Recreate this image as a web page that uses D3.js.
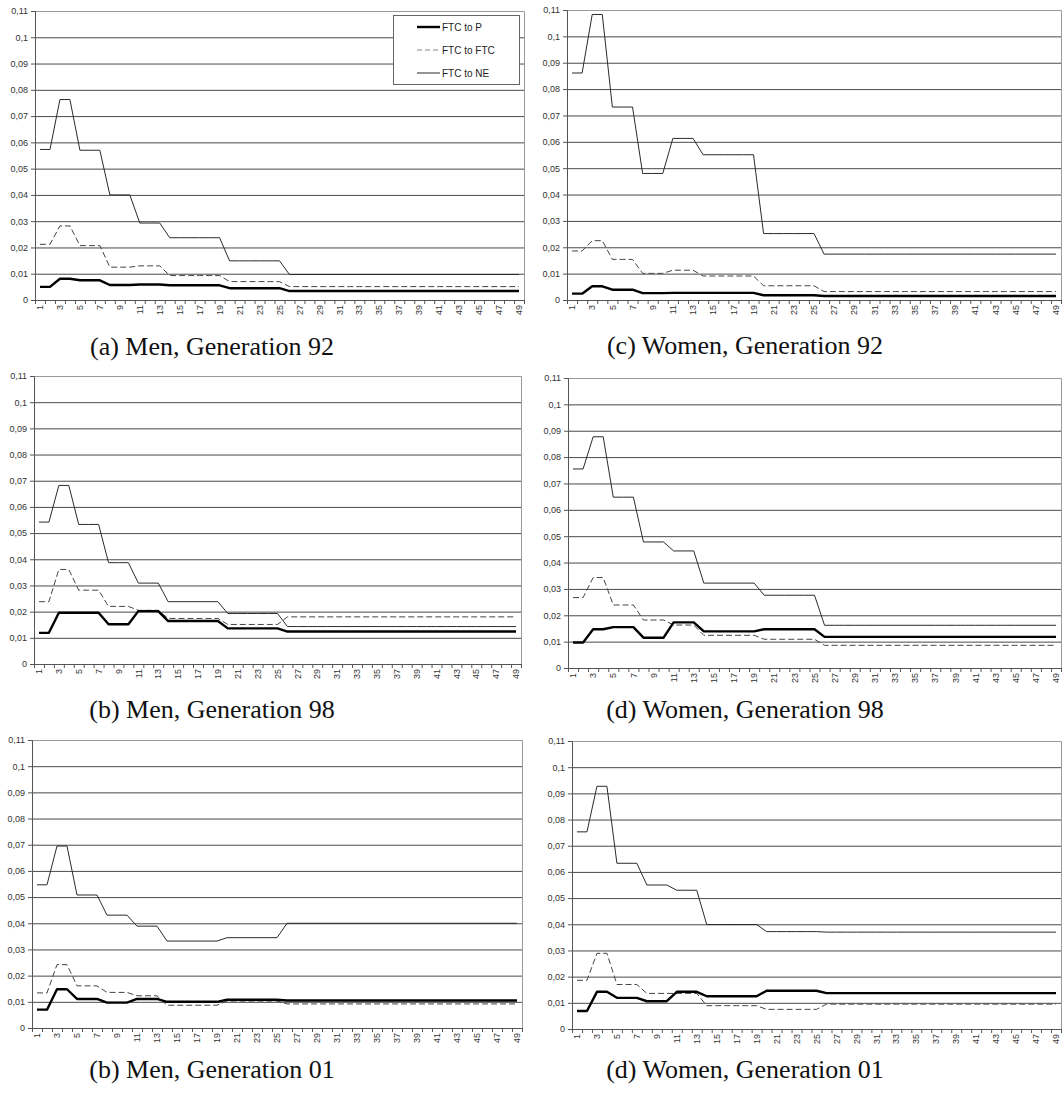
<!DOCTYPE html>
<html>
<head>
<meta charset="utf-8">
<script src="https://cdn.jsdelivr.net/npm/d3@7"></script>
<style>
  body { margin: 0; background: #fff; }
</style>
</head>
<body>
<svg id="chart" width="1064" height="1093"></svg>
<script>
// categories on the x axis (1..49) and the ones that carry a label
const categories = [
  1, 2, 3, 4, 5, 6, 7, 8, 9, 10, 11, 12, 13, 14, 15, 16, 17, 18, 19, 20,
  21, 22, 23, 24, 25, 26, 27, 28, 29, 30, 31, 32, 33, 34, 35, 36, 37, 38, 39, 40,
  41, 42, 43, 44, 45, 46, 47, 48, 49
];
const labelledCategories = [1, 3, 5, 7, 9, 11, 13, 15, 17, 19, 21, 23, 25, 27, 29, 31, 33, 35, 37, 39, 41, 43, 45, 47, 49];

const yTicks = [0, 0.01, 0.02, 0.03, 0.04, 0.05, 0.06, 0.07, 0.08, 0.09, 0.1, 0.11];
const yTickLabels = ['0', '0,01', '0,02', '0,03', '0,04', '0,05', '0,06', '0,07', '0,08', '0,09', '0,1', '0,11'];

const seriesNames = ['FTC to P', 'FTC to FTC', 'FTC to NE'];

const captions = [
  '(a) Men, Generation 92', '(c) Women, Generation 92',
  '(b) Men, Generation 98', '(d) Women, Generation 98',
  '(b) Men, Generation 01', '(d) Women, Generation 01'
];

// (a) Men, Generation 92
const men92P = [
  0.005, 0.005, 0.0081, 0.0081, 0.0075, 0.0075, 0.0075, 0.0057, 0.0057, 0.0057,
  0.0059, 0.0059, 0.0059, 0.0056, 0.0056, 0.0056, 0.0056, 0.0056, 0.0056, 0.0045,
  0.0045, 0.0045, 0.0045, 0.0045, 0.0045, 0.0034, 0.0034, 0.0034, 0.0034, 0.0034,
  0.0034, 0.0034, 0.0034, 0.0034, 0.0034, 0.0034, 0.0034, 0.0034, 0.0034, 0.0034,
  0.0034, 0.0034, 0.0034, 0.0034, 0.0034, 0.0034, 0.0034, 0.0034, 0.0034
];
const men92FTC = [
  0.0212, 0.0212, 0.0282, 0.0282, 0.0207, 0.0207, 0.0207, 0.0125, 0.0125, 0.0125,
  0.013, 0.013, 0.013, 0.0093, 0.0093, 0.0093, 0.0093, 0.0093, 0.0093, 0.007,
  0.007, 0.007, 0.007, 0.007, 0.007, 0.0051, 0.0051, 0.0051, 0.0051, 0.0051,
  0.0051, 0.0051, 0.0051, 0.0051, 0.0051, 0.0051, 0.0051, 0.0051, 0.0051, 0.0051,
  0.0051, 0.0051, 0.0051, 0.0051, 0.0051, 0.0051, 0.0051, 0.0051, 0.0051
];
const men92NE = [
  0.0573, 0.0573, 0.0763, 0.0763, 0.057, 0.057, 0.057, 0.04, 0.04, 0.04,
  0.0293, 0.0293, 0.0293, 0.0237, 0.0237, 0.0237, 0.0237, 0.0237, 0.0237, 0.0149,
  0.0149, 0.0149, 0.0149, 0.0149, 0.0149, 0.0097, 0.0097, 0.0097, 0.0097, 0.0097,
  0.0097, 0.0097, 0.0097, 0.0097, 0.0097, 0.0097, 0.0097, 0.0097, 0.0097, 0.0097,
  0.0097, 0.0097, 0.0097, 0.0097, 0.0097, 0.0097, 0.0097, 0.0097, 0.0097
];

// (c) Women, Generation 92
const women92P = [
  0.0024, 0.0024, 0.0052, 0.0052, 0.0039, 0.0039, 0.0039, 0.0026, 0.0026, 0.0026,
  0.0027, 0.0027, 0.0027, 0.0027, 0.0027, 0.0027, 0.0027, 0.0027, 0.0027, 0.0018,
  0.0018, 0.0018, 0.0018, 0.0018, 0.0018, 0.0015, 0.0015, 0.0015, 0.0015, 0.0015,
  0.0015, 0.0015, 0.0015, 0.0015, 0.0015, 0.0015, 0.0015, 0.0015, 0.0015, 0.0015,
  0.0015, 0.0015, 0.0015, 0.0015, 0.0015, 0.0015, 0.0015, 0.0015, 0.0015
];
const women92FTC = [
  0.0186, 0.0186, 0.0225, 0.0225, 0.0154, 0.0154, 0.0154, 0.0101, 0.0101, 0.0101,
  0.0113, 0.0113, 0.0113, 0.0091, 0.0091, 0.0091, 0.0091, 0.0091, 0.0091, 0.0054,
  0.0054, 0.0054, 0.0054, 0.0054, 0.0054, 0.0032, 0.0032, 0.0032, 0.0032, 0.0032,
  0.0032, 0.0032, 0.0032, 0.0032, 0.0032, 0.0032, 0.0032, 0.0032, 0.0032, 0.0032,
  0.0032, 0.0032, 0.0032, 0.0032, 0.0032, 0.0032, 0.0032, 0.0032, 0.0032
];
const women92NE = [
  0.0861, 0.0861, 0.1083, 0.1083, 0.0732, 0.0732, 0.0732, 0.048, 0.048, 0.048,
  0.0613, 0.0613, 0.0613, 0.0551, 0.0551, 0.0551, 0.0551, 0.0551, 0.0551, 0.0252,
  0.0252, 0.0252, 0.0252, 0.0252, 0.0252, 0.0174, 0.0174, 0.0174, 0.0174, 0.0174,
  0.0174, 0.0174, 0.0174, 0.0174, 0.0174, 0.0174, 0.0174, 0.0174, 0.0174, 0.0174,
  0.0174, 0.0174, 0.0174, 0.0174, 0.0174, 0.0174, 0.0174, 0.0174, 0.0174
];

// (b) Men, Generation 98
const men98P = [
  0.0119, 0.0119, 0.0196, 0.0196, 0.0196, 0.0196, 0.0196, 0.0152, 0.0152, 0.0152,
  0.0202, 0.0202, 0.0202, 0.0164, 0.0164, 0.0164, 0.0164, 0.0164, 0.0164, 0.0136,
  0.0136, 0.0136, 0.0136, 0.0136, 0.0136, 0.0124, 0.0124, 0.0124, 0.0124, 0.0124,
  0.0124, 0.0124, 0.0124, 0.0124, 0.0124, 0.0124, 0.0124, 0.0124, 0.0124, 0.0124,
  0.0124, 0.0124, 0.0124, 0.0124, 0.0124, 0.0124, 0.0124, 0.0124, 0.0124
];
const men98FTC = [
  0.0238, 0.0238, 0.0361, 0.0361, 0.0282, 0.0282, 0.0282, 0.022, 0.022, 0.022,
  0.0205, 0.0205, 0.0205, 0.0174, 0.0174, 0.0174, 0.0174, 0.0174, 0.0174, 0.0151,
  0.0151, 0.0151, 0.0151, 0.0151, 0.0151, 0.018, 0.018, 0.018, 0.018, 0.018,
  0.018, 0.018, 0.018, 0.018, 0.018, 0.018, 0.018, 0.018, 0.018, 0.018,
  0.018, 0.018, 0.018, 0.018, 0.018, 0.018, 0.018, 0.018, 0.018
];
const men98NE = [
  0.0542, 0.0542, 0.0682, 0.0682, 0.0533, 0.0533, 0.0533, 0.0387, 0.0387, 0.0387,
  0.0309, 0.0309, 0.0309, 0.0238, 0.0238, 0.0238, 0.0238, 0.0238, 0.0238, 0.0193,
  0.0193, 0.0193, 0.0193, 0.0193, 0.0193, 0.0143, 0.0143, 0.0143, 0.0143, 0.0143,
  0.0143, 0.0143, 0.0143, 0.0143, 0.0143, 0.0143, 0.0143, 0.0143, 0.0143, 0.0143,
  0.0143, 0.0143, 0.0143, 0.0143, 0.0143, 0.0143, 0.0143, 0.0143, 0.0143
];

// (d) Women, Generation 98
const women98P = [
  0.0097, 0.0097, 0.0147, 0.0147, 0.0155, 0.0155, 0.0155, 0.0115, 0.0115, 0.0115,
  0.0173, 0.0173, 0.0173, 0.0139, 0.0139, 0.0139, 0.0139, 0.0139, 0.0139, 0.0147,
  0.0147, 0.0147, 0.0147, 0.0147, 0.0147, 0.0118, 0.0118, 0.0118, 0.0118, 0.0118,
  0.0118, 0.0118, 0.0118, 0.0118, 0.0118, 0.0118, 0.0118, 0.0118, 0.0118, 0.0118,
  0.0118, 0.0118, 0.0118, 0.0118, 0.0118, 0.0118, 0.0118, 0.0118, 0.0118
];
const women98FTC = [
  0.0267, 0.0267, 0.0343, 0.0343, 0.0239, 0.0239, 0.0239, 0.0182, 0.0182, 0.0182,
  0.0163, 0.0163, 0.0163, 0.0124, 0.0124, 0.0124, 0.0124, 0.0124, 0.0124, 0.0109,
  0.0109, 0.0109, 0.0109, 0.0109, 0.0109, 0.0086, 0.0086, 0.0086, 0.0086, 0.0086,
  0.0086, 0.0086, 0.0086, 0.0086, 0.0086, 0.0086, 0.0086, 0.0086, 0.0086, 0.0086,
  0.0086, 0.0086, 0.0086, 0.0086, 0.0086, 0.0086, 0.0086, 0.0086, 0.0086
];
const women98NE = [
  0.0755, 0.0755, 0.0877, 0.0877, 0.0648, 0.0648, 0.0648, 0.0478, 0.0478, 0.0478,
  0.0444, 0.0444, 0.0444, 0.0322, 0.0322, 0.0322, 0.0322, 0.0322, 0.0322, 0.0276,
  0.0276, 0.0276, 0.0276, 0.0276, 0.0276, 0.0162, 0.0162, 0.0162, 0.0162, 0.0162,
  0.0162, 0.0162, 0.0162, 0.0162, 0.0162, 0.0162, 0.0162, 0.0162, 0.0162, 0.0162,
  0.0162, 0.0162, 0.0162, 0.0162, 0.0162, 0.0162, 0.0162, 0.0162, 0.0162
];

// (b) Men, Generation 01
const men01P = [
  0.007, 0.007, 0.0148, 0.0148, 0.0111, 0.0111, 0.0111, 0.0097, 0.0097, 0.0097,
  0.0111, 0.0111, 0.0111, 0.01, 0.01, 0.01, 0.01, 0.01, 0.01, 0.0108,
  0.0108, 0.0108, 0.0108, 0.0108, 0.0108, 0.0105, 0.0105, 0.0105, 0.0105, 0.0105,
  0.0105, 0.0105, 0.0105, 0.0105, 0.0105, 0.0105, 0.0105, 0.0105, 0.0105, 0.0105,
  0.0105, 0.0105, 0.0105, 0.0105, 0.0105, 0.0105, 0.0105, 0.0105, 0.0105
];
const men01FTC = [
  0.0134, 0.0134, 0.0242, 0.0242, 0.0161, 0.0161, 0.0161, 0.0136, 0.0136, 0.0136,
  0.0123, 0.0123, 0.0123, 0.0087, 0.0087, 0.0087, 0.0087, 0.0087, 0.0087, 0.0103,
  0.0103, 0.0103, 0.0103, 0.0103, 0.0103, 0.0092, 0.0092, 0.0092, 0.0092, 0.0092,
  0.0092, 0.0092, 0.0092, 0.0092, 0.0092, 0.0092, 0.0092, 0.0092, 0.0092, 0.0092,
  0.0092, 0.0092, 0.0092, 0.0092, 0.0092, 0.0092, 0.0092, 0.0092, 0.0092
];
const men01NE = [
  0.0547, 0.0547, 0.0695, 0.0695, 0.0508, 0.0508, 0.0508, 0.0431, 0.0431, 0.0431,
  0.0389, 0.0389, 0.0389, 0.0332, 0.0332, 0.0332, 0.0332, 0.0332, 0.0332, 0.0345,
  0.0345, 0.0345, 0.0345, 0.0345, 0.0345, 0.04, 0.04, 0.04, 0.04, 0.04,
  0.04, 0.04, 0.04, 0.04, 0.04, 0.04, 0.04, 0.04, 0.04, 0.04,
  0.04, 0.04, 0.04, 0.04, 0.04, 0.04, 0.04, 0.04, 0.04
];

// (d) Women, Generation 01
const women01P = [
  0.0069, 0.0069, 0.0142, 0.0142, 0.0119, 0.0119, 0.0119, 0.0106, 0.0106, 0.0106,
  0.0142, 0.0142, 0.0142, 0.0125, 0.0125, 0.0125, 0.0125, 0.0125, 0.0125, 0.0146,
  0.0146, 0.0146, 0.0146, 0.0146, 0.0146, 0.0137, 0.0137, 0.0137, 0.0137, 0.0137,
  0.0137, 0.0137, 0.0137, 0.0137, 0.0137, 0.0137, 0.0137, 0.0137, 0.0137, 0.0137,
  0.0137, 0.0137, 0.0137, 0.0137, 0.0137, 0.0137, 0.0137, 0.0137, 0.0137
];
const women01FTC = [
  0.0186, 0.0186, 0.0289, 0.0289, 0.017, 0.017, 0.017, 0.0136, 0.0136, 0.0136,
  0.0136, 0.0136, 0.0136, 0.0089, 0.0089, 0.0089, 0.0089, 0.0089, 0.0089, 0.0075,
  0.0075, 0.0075, 0.0075, 0.0075, 0.0075, 0.0095, 0.0095, 0.0095, 0.0095, 0.0095,
  0.0095, 0.0095, 0.0095, 0.0095, 0.0095, 0.0095, 0.0095, 0.0095, 0.0095, 0.0095,
  0.0095, 0.0095, 0.0095, 0.0095, 0.0095, 0.0095, 0.0095, 0.0095, 0.0095
];
const women01NE = [
  0.0753, 0.0753, 0.0927, 0.0927, 0.0633, 0.0633, 0.0633, 0.055, 0.055, 0.055,
  0.053, 0.053, 0.053, 0.0399, 0.0399, 0.0399, 0.0399, 0.0399, 0.0399, 0.0372,
  0.0372, 0.0372, 0.0372, 0.0372, 0.0372, 0.037, 0.037, 0.037, 0.037, 0.037,
  0.037, 0.037, 0.037, 0.037, 0.037, 0.037, 0.037, 0.037, 0.037, 0.037,
  0.037, 0.037, 0.037, 0.037, 0.037, 0.037, 0.037, 0.037, 0.037
];

const sansFont = "'Liberation Sans', Arial, sans-serif";
const serifFont = "'Liberation Serif', 'Times New Roman', serif";

// line look for P, FTC, NE (drawn NE first so the thick P line sits on top)
const seriesStyle = [
  { stroke: '#000', width: 2.4, dash: null },
  { stroke: '#444', width: 1, dash: '6,3' },
  { stroke: '#2a2a2a', width: 1, dash: null }
];

const panels = [
  { caption: captions[0], series: [men92P, men92FTC, men92NE], legend: true,
    frame: { left: 35, right: 524, top: 11, bottom: 300 }, capX: 212, capY: 355 },
  { caption: captions[1], series: [women92P, women92FTC, women92NE],
    frame: { left: 567, right: 1061, top: 10, bottom: 300 }, capX: 745, capY: 354 },
  { caption: captions[2], series: [men98P, men98FTC, men98NE],
    frame: { left: 34, right: 521, top: 376, bottom: 664 }, capX: 212, capY: 718 },
  { caption: captions[3], series: [women98P, women98FTC, women98NE],
    frame: { left: 568, right: 1061, top: 378, bottom: 668 }, capX: 745, capY: 718 },
  { caption: captions[4], series: [men01P, men01FTC, men01NE],
    frame: { left: 32, right: 522, top: 740, bottom: 1028 }, capX: 212, capY: 1078 },
  { caption: captions[5], series: [women01P, women01FTC, women01NE],
    frame: { left: 572, right: 1061, top: 741, bottom: 1029 }, capX: 745, capY: 1078 }
];

const svg = d3.select('#chart');
svg.append('rect').attr('width', 1064).attr('height', 1093).attr('fill', '#fff');

panels.forEach(drawPanel);

function drawPanel(p) {
  const f = p.frame;
  const g = svg.append('g');

  const x = d3.scaleBand().domain(categories).range([f.left, f.right]);
  const xEdge = d3.scaleLinear().domain([0, categories.length]).range([f.left, f.right]);
  const y = d3.scaleLinear().domain([0, 0.11]).range([f.bottom, f.top]);

  // Gridlines
  g.append('g')
    .attr('transform', `translate(${f.left},0)`)
    .call(d3.axisLeft(y).tickValues(yTicks.slice(1, -1)).tickSize(-(f.right - f.left)).tickFormat(''))
    .call(s => s.select('.domain').remove())
    .selectAll('line')
    .attr('stroke', '#4a4a4a');

  // Plot border (top and right)
  g.append('path')
    .attr('d', `M${f.left},${f.top + 0.5}H${f.right + 0.5}V${f.bottom}`)
    .attr('fill', 'none')
    .attr('stroke', '#9a9a9a');

  // Y axis
  const yAxis = g.append('g')
    .attr('transform', `translate(${f.left},0)`)
    .call(d3.axisLeft(y).tickValues(yTicks).tickFormat((d, i) => yTickLabels[i]).tickSize(4).tickPadding(3));
  yAxis.select('.domain').attr('stroke', '#555');
  yAxis.selectAll('.tick line').attr('stroke', '#555');
  yAxis.selectAll('.tick text')
    .style('font-family', sansFont)
    .style('font-size', '9px')
    .attr('fill', '#333');

  // X axis: tick marks at every category boundary
  const xTicks = g.append('g')
    .attr('transform', `translate(0,${f.bottom})`)
    .call(d3.axisBottom(xEdge).tickValues(d3.range(0, categories.length + 1)).tickSize(4).tickFormat(''));
  xTicks.select('.domain').attr('stroke', '#555');
  xTicks.selectAll('.tick line').attr('stroke', '#555');

  // X axis labels, rotated
  const xLabels = g.append('g')
    .attr('transform', `translate(0,${f.bottom})`)
    .call(d3.axisBottom(x).tickValues(labelledCategories).tickSize(0));
  xLabels.select('.domain').remove();
  xLabels.selectAll('.tick text')
    .attr('transform', 'rotate(-90)')
    .attr('text-anchor', 'end')
    .attr('x', -5)
    .attr('y', 0)
    .attr('dy', '0.35em')
    .style('font-family', sansFont)
    .style('font-size', '9px')
    .attr('fill', '#333');

  // Series lines
  const line = d3.line()
    .x((d, i) => x(categories[i]) + x.bandwidth() / 2)
    .y(d => y(d));

  [2, 1, 0].forEach(k => {
    const st = seriesStyle[k];
    g.append('path')
      .datum(p.series[k])
      .attr('d', line)
      .attr('fill', 'none')
      .attr('stroke', st.stroke)
      .attr('stroke-width', st.width)
      .attr('stroke-dasharray', st.dash)
      .attr('stroke-linejoin', 'round');
  });

  // Legend (first panel only)
  if (p.legend) {
    const lg = g.append('g');
    lg.append('rect')
      .attr('x', 393.5).attr('y', 15.5)
      .attr('width', 126).attr('height', 69)
      .attr('fill', '#fff')
      .attr('stroke', '#666');
    seriesNames.forEach((name, k) => {
      const st = seriesStyle[k];
      const ly = 27 + k * 23;
      lg.append('line')
        .attr('x1', 417).attr('x2', 440)
        .attr('y1', ly).attr('y2', ly)
        .attr('stroke', k === 1 ? '#888' : st.stroke)
        .attr('stroke-width', st.width)
        .attr('stroke-dasharray', k === 1 ? '5,3' : st.dash);
      lg.append('text')
        .attr('x', 442).attr('y', ly)
        .attr('dy', '0.35em')
        .style('font-family', sansFont)
        .style('font-size', '10px')
        .attr('fill', '#222')
        .text(name);
    });
  }

  // Caption
  svg.append('text')
    .attr('x', p.capX)
    .attr('y', p.capY)
    .attr('text-anchor', 'middle')
    .style('font-family', serifFont)
    .style('font-size', '26px')
    .attr('fill', '#111')
    .text(p.caption);
}
</script>
</body>
</html>
